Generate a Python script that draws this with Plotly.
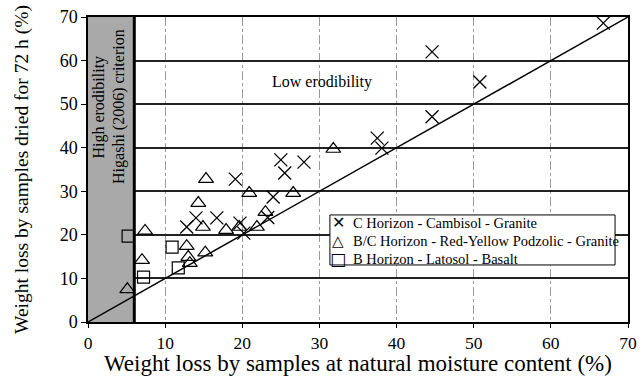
import plotly.graph_objects as go

# C Horizon - Cambisol - Granite
c_x = [66.8, 44.6, 50.8, 44.6, 37.5, 38.1, 25.0, 28.0, 25.5, 19.1, 24.0, 14.0, 16.7, 12.8, 19.7, 20.2, 23.3]
c_y = [68.6, 62.0, 55.1, 47.1, 42.2, 39.9, 37.2, 36.7, 34.2, 32.8, 28.7, 23.9, 23.9, 21.8, 22.7, 20.4, 24.0]
# B/C Horizon - Red-Yellow Podzolic - Granite
bc_x = [31.8, 15.3, 20.9, 26.6, 14.3, 14.9, 17.9, 19.6, 21.9, 23.0, 7.4, 12.8, 13.0, 13.2, 15.2, 7.0, 5.1]
bc_y = [39.7, 32.8, 29.6, 29.6, 27.3, 21.8, 21.1, 21.8, 21.8, 25.2, 20.9, 17.4, 14.9, 13.5, 15.9, 14.2, 7.5]
# B Horizon - Latosol - Basalt
b_x = [5.2, 10.9, 11.7, 7.2]
b_y = [19.7, 17.2, 12.4, 10.3]

series_names = ["C Horizon - Cambisol - Granite",
                "B/C Horizon - Red-Yellow Podzolic - Granite",
                "B Horizon - Latosol - Basalt"]
legend_glyphs = ["\u2715", "\u25B3", "\u25A1"]

line_xy = [0, 70]
ticks = [0, 10, 20, 30, 40, 50, 60, 70]
criterion_x = 6

FONT = "'Liberation Serif', 'Times New Roman', Times, serif"

fig = go.Figure()

fig.add_trace(go.Scatter(x=line_xy, y=line_xy, mode="lines",
                         line=dict(color="black", width=1.5), showlegend=False, hoverinfo="skip"))
fig.add_trace(go.Scatter(x=c_x, y=c_y, mode="markers", name=series_names[0], showlegend=False,
                         marker=dict(symbol="x-thin-open", size=13, line=dict(color="black", width=1.3), color="black")))
fig.add_trace(go.Scatter(x=bc_x, y=bc_y, mode="markers", name=series_names[1], showlegend=False,
                         marker=dict(symbol="triangle-up-open", size=13, line=dict(color="black", width=1.2), color="black")))
fig.add_trace(go.Scatter(x=b_x, y=b_y, mode="markers", name=series_names[2], showlegend=False,
                         marker=dict(symbol="square-open", size=12, line=dict(color="black", width=1.2), color="black")))

fig.add_shape(type="rect", x0=0, x1=criterion_x, y0=0, y1=70, xref="x", yref="y",
              fillcolor="#a9a9a9", line=dict(width=0), layer="between")
fig.add_shape(type="line", x0=criterion_x, x1=criterion_x, y0=0, y1=70, xref="x", yref="y",
              line=dict(color="black", width=3), layer="above")

# legend box (paper coordinates)
fig.add_shape(type="rect", xref="paper", yref="paper", x0=0.448, x1=0.976, y0=0.187, y1=0.351,
              fillcolor="white", line=dict(color="black", width=1), layer="above")
row_y = [0.325, 0.266, 0.207]
glyph_sizes = [16, 15, 17]
for name, glyph, gy, gs in zip(series_names, legend_glyphs, row_y, glyph_sizes):
    fig.add_annotation(xref="paper", yref="paper", x=0.463, y=gy, text=glyph, showarrow=False,
                       xanchor="center", yanchor="middle",
                       font=dict(family="DejaVu Sans", size=gs, color="black"))
    fig.add_annotation(xref="paper", yref="paper", x=0.487, y=gy, text=name, showarrow=False,
                       xanchor="left", yanchor="middle",
                       font=dict(family=FONT, size=14.5, color="black"))

fig.add_annotation(x=30.3, y=55.1, text="Low erodibility", showarrow=False,
                   font=dict(family=FONT, size=16, color="black"))
fig.add_annotation(x=1.4, y=49.4, text="High erodibility", showarrow=False, textangle=-90,
                   font=dict(family=FONT, size=16, color="black"))
fig.add_annotation(x=4.1, y=49.5, text="Higashi (2006) criterion", showarrow=False, textangle=-90,
                   font=dict(family=FONT, size=16, color="black"))

# x-axis title placed as annotation for precise vertical position
fig.add_annotation(xref="paper", yref="paper", x=0.5, y=-0.183, xanchor="center", yanchor="bottom",
                   text="Weight loss by samples at natural moisture content (%)", showarrow=False,
                   font=dict(family=FONT, size=23, color="black"))

fig.update_layout(
    width=643, height=377,
    margin=dict(l=88, r=15, t=17, b=55),
    paper_bgcolor="white", plot_bgcolor="white",
    font=dict(family=FONT, color="black"),
    showlegend=False,
    xaxis=dict(range=[0, 70], tickvals=ticks, showgrid=True, gridcolor="#9a9a9a", griddash="dashdot",
               gridwidth=1, showline=True, linecolor="black", linewidth=1.5, mirror=True,
               ticks="outside", ticklen=4, tickcolor="black", zeroline=False, automargin=False,
               tickfont=dict(family=FONT, size=17.5, color="black")),
    yaxis=dict(range=[0, 70], tickvals=ticks, showgrid=True, gridcolor="#222222", gridwidth=1.5,
               showline=True, linecolor="black", linewidth=1.5, mirror=True,
               ticks="outside", ticklen=5, tickcolor="black", zeroline=False, automargin=False,
               tickfont=dict(family=FONT, size=18, color="black"),
               title=dict(text="Weight loss by samples dried for 72 h (%)",
                          font=dict(family=FONT, size=19.5, color="black"), standoff=26)),
)

fig.write_html("out.html")
